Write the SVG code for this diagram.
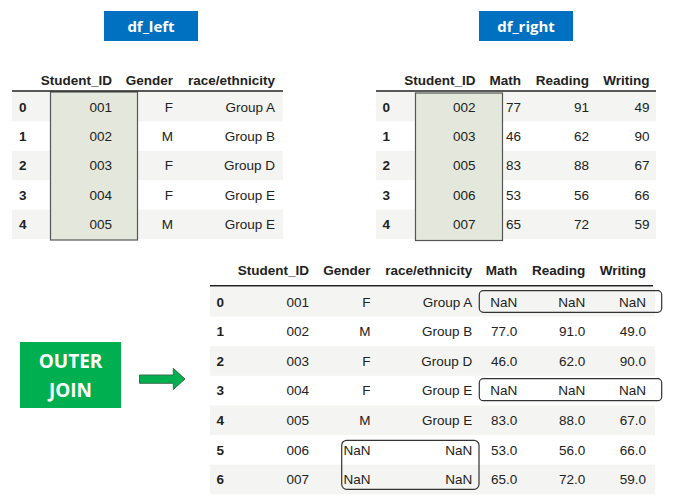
<svg xmlns="http://www.w3.org/2000/svg" width="684" height="503" viewBox="0 0 684 503">
<style>
text{font-family:"Liberation Sans",Arial,sans-serif;font-size:13.5px;fill:#222}
.h{font-weight:bold}
.i{font-weight:bold}
.r{text-anchor:end}
.band{fill:#f4f5f2}
.hl{fill:#e4e8dc;stroke:#555;stroke-width:1.2}
.rule{stroke:#222;stroke-width:1.5}
.nan{fill:none;stroke:#333;stroke-width:1.2}
.title{font-family:"Open Sans","Liberation Sans",sans-serif;font-weight:bold;font-size:15px;fill:#fff;text-anchor:middle}
.oj{font-family:"Open Sans","Liberation Sans",sans-serif;font-weight:bold;font-size:19px;fill:#fff;text-anchor:middle}
</style>
<rect width="684" height="503" fill="#fff"/>

<g id="label-df-left">
<rect x="104" y="11" width="94" height="30" fill="#0070C0"/>
<text class="title" x="151" y="31.5">df_left</text>
</g>
<g id="label-df-right">
<rect x="479" y="11" width="94" height="30" fill="#0070C0"/>
<text class="title" x="526" y="31.5">df_right</text>
</g>

<g id="table-left">
<rect class="band" x="12" y="92" width="271" height="29.4"/>
<rect class="band" x="12" y="150.8" width="271" height="29.4"/>
<rect class="band" x="12" y="209.6" width="271" height="29.4"/>
<rect class="hl" x="50.5" y="92" width="87" height="148"/>
<line class="rule" x1="12" y1="91" x2="283" y2="91"/>
<text class="h r" x="112" y="85">Student_ID</text>
<text class="h r" x="173" y="85">Gender</text>
<text class="h r" x="275" y="85">race/ethnicity</text>
<text class="i" x="19" y="111.5">0</text><text class="r" x="112" y="111.5">001</text><text class="r" x="173" y="111.5">F</text><text class="r" x="275" y="111.5">Group A</text>
<text class="i" x="19" y="141">1</text><text class="r" x="112" y="141">002</text><text class="r" x="173" y="141">M</text><text class="r" x="275" y="141">Group B</text>
<text class="i" x="19" y="170.3">2</text><text class="r" x="112" y="170.3">003</text><text class="r" x="173" y="170.3">F</text><text class="r" x="275" y="170.3">Group D</text>
<text class="i" x="19" y="199.7">3</text><text class="r" x="112" y="199.7">004</text><text class="r" x="173" y="199.7">F</text><text class="r" x="275" y="199.7">Group E</text>
<text class="i" x="19" y="229.1">4</text><text class="r" x="112" y="229.1">005</text><text class="r" x="173" y="229.1">M</text><text class="r" x="275" y="229.1">Group E</text>
</g>

<g id="table-right">
<rect class="band" x="376" y="92" width="280" height="29.4"/>
<rect class="band" x="376" y="150.8" width="280" height="29.4"/>
<rect class="band" x="376" y="209.6" width="280" height="29.4"/>
<rect class="hl" x="415.5" y="93" width="87" height="147.5"/>
<line class="rule" x1="376" y1="91" x2="656" y2="91"/>
<text class="h r" x="475.5" y="85">Student_ID</text>
<text class="h r" x="521" y="85">Math</text>
<text class="h r" x="589" y="85">Reading</text>
<text class="h r" x="649.5" y="85">Writing</text>
<text class="i" x="382.5" y="111.5">0</text><text class="r" x="475.5" y="111.5">002</text><text class="r" x="521" y="111.5">77</text><text class="r" x="589" y="111.5">91</text><text class="r" x="649.5" y="111.5">49</text>
<text class="i" x="382.5" y="141">1</text><text class="r" x="475.5" y="141">003</text><text class="r" x="521" y="141">46</text><text class="r" x="589" y="141">62</text><text class="r" x="649.5" y="141">90</text>
<text class="i" x="382.5" y="170.3">2</text><text class="r" x="475.5" y="170.3">005</text><text class="r" x="521" y="170.3">83</text><text class="r" x="589" y="170.3">88</text><text class="r" x="649.5" y="170.3">67</text>
<text class="i" x="382.5" y="199.7">3</text><text class="r" x="475.5" y="199.7">006</text><text class="r" x="521" y="199.7">53</text><text class="r" x="589" y="199.7">56</text><text class="r" x="649.5" y="199.7">66</text>
<text class="i" x="382.5" y="229.1">4</text><text class="r" x="475.5" y="229.1">007</text><text class="r" x="521" y="229.1">65</text><text class="r" x="589" y="229.1">72</text><text class="r" x="649.5" y="229.1">59</text>
</g>

<g id="outer-join">
<rect x="20" y="342" width="101" height="66" fill="#00B050"/>
<text class="oj" x="70.5" y="367.5">OUTER</text>
<text class="oj" x="70.5" y="397">JOIN</text>
</g>

<g id="table-result">
<rect class="band" x="210" y="287" width="445" height="29.6"/>
<rect class="band" x="210" y="346.2" width="445" height="29.6"/>
<rect class="band" x="210" y="405.4" width="445" height="29.6"/>
<rect class="band" x="210" y="464.6" width="445" height="29.6"/>
<line class="rule" x1="210" y1="285.7" x2="653" y2="285.7"/>
<text class="h r" x="309" y="275">Student_ID</text>
<text class="h r" x="370.5" y="275">Gender</text>
<text class="h r" x="472.3" y="275">race/ethnicity</text>
<text class="h r" x="517.3" y="275">Math</text>
<text class="h r" x="585.3" y="275">Reading</text>
<text class="h r" x="646" y="275">Writing</text>
<text class="i" x="216.5" y="306.6">0</text><text class="r" x="309" y="306.6">001</text><text class="r" x="370.5" y="306.6">F</text><text class="r" x="472.3" y="306.6">Group A</text><text class="r" x="517.3" y="306.6">NaN</text><text class="r" x="585.3" y="306.6">NaN</text><text class="r" x="646" y="306.6">NaN</text>
<text class="i" x="216.5" y="336.2">1</text><text class="r" x="309" y="336.2">002</text><text class="r" x="370.5" y="336.2">M</text><text class="r" x="472.3" y="336.2">Group B</text><text class="r" x="517.3" y="336.2">77.0</text><text class="r" x="585.3" y="336.2">91.0</text><text class="r" x="646" y="336.2">49.0</text>
<text class="i" x="216.5" y="365.8">2</text><text class="r" x="309" y="365.8">003</text><text class="r" x="370.5" y="365.8">F</text><text class="r" x="472.3" y="365.8">Group D</text><text class="r" x="517.3" y="365.8">46.0</text><text class="r" x="585.3" y="365.8">62.0</text><text class="r" x="646" y="365.8">90.0</text>
<text class="i" x="216.5" y="395.4">3</text><text class="r" x="309" y="395.4">004</text><text class="r" x="370.5" y="395.4">F</text><text class="r" x="472.3" y="395.4">Group E</text><text class="r" x="517.3" y="395.4">NaN</text><text class="r" x="585.3" y="395.4">NaN</text><text class="r" x="646" y="395.4">NaN</text>
<text class="i" x="216.5" y="425">4</text><text class="r" x="309" y="425">005</text><text class="r" x="370.5" y="425">M</text><text class="r" x="472.3" y="425">Group E</text><text class="r" x="517.3" y="425">83.0</text><text class="r" x="585.3" y="425">88.0</text><text class="r" x="646" y="425">67.0</text>
<text class="i" x="216.5" y="454.6">5</text><text class="r" x="309" y="454.6">006</text><text class="r" x="370.5" y="454.6">NaN</text><text class="r" x="472.3" y="454.6">NaN</text><text class="r" x="517.3" y="454.6">53.0</text><text class="r" x="585.3" y="454.6">56.0</text><text class="r" x="646" y="454.6">66.0</text>
<text class="i" x="216.5" y="484.2">6</text><text class="r" x="309" y="484.2">007</text><text class="r" x="370.5" y="484.2">NaN</text><text class="r" x="472.3" y="484.2">NaN</text><text class="r" x="517.3" y="484.2">65.0</text><text class="r" x="585.3" y="484.2">72.0</text><text class="r" x="646" y="484.2">59.0</text>
<rect class="nan" x="479.3" y="290.7" width="182.4" height="21.6" rx="4"/>
<rect class="nan" x="479.3" y="378.7" width="182.4" height="22" rx="4"/>
<rect class="nan" x="341.7" y="440.3" width="137.3" height="49" rx="5"/>
</g>

<g id="connectors">
<polygon points="139.5,375 173.3,375 173.3,368.3 185,379 173.3,389.5 173.3,383.3 139.5,383.3" fill="#00B050" stroke="#3c6e4e" stroke-width="1"/>
</g>
</svg>
